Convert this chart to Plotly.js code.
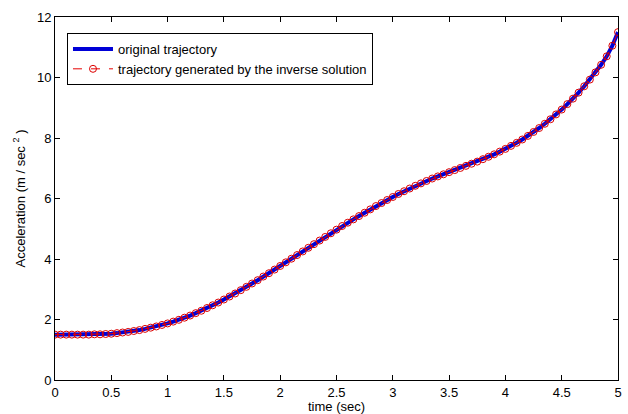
<!DOCTYPE html>
<html>
<head>
<meta charset="utf-8">
<script src="https://cdn.plot.ly/plotly-3.0.1.min.js"></script>
<style>html,body{margin:0;padding:0;background:#fff;}#chart{width:628px;height:414px;}</style>
</head>
<body>
<div id="chart"></div>
<script>
const timeSec = [0.00,0.05,0.10,0.15,0.20,0.25,0.30,0.35,0.40,0.45,0.50,0.55,0.60,0.65,0.70,0.75,0.80,0.85,0.90,0.95,
1.00,1.05,1.10,1.15,1.20,1.25,1.30,1.35,1.40,1.45,1.50,1.55,1.60,1.65,1.70,1.75,1.80,1.85,1.90,1.95,
2.00,2.05,2.10,2.15,2.20,2.25,2.30,2.35,2.40,2.45,2.50,2.55,2.60,2.65,2.70,2.75,2.80,2.85,2.90,2.95,
3.00,3.05,3.10,3.15,3.20,3.25,3.30,3.35,3.40,3.45,3.50,3.55,3.60,3.65,3.70,3.75,3.80,3.85,3.90,3.95,
4.00,4.05,4.10,4.15,4.20,4.25,4.30,4.35,4.40,4.45,4.50,4.55,4.60,4.65,4.70,4.75,4.80,4.85,4.90,4.95,5.00];

const originalAccel = [1.50,1.50,1.50,1.50,1.50,1.50,1.50,1.51,1.51,1.52,1.53,1.55,1.57,1.59,1.62,1.65,1.69,1.73,1.77,1.82,
1.87,1.93,1.99,2.06,2.13,2.21,2.29,2.38,2.47,2.56,2.66,2.76,2.86,2.97,3.08,3.19,3.30,3.42,3.53,3.65,
3.77,3.89,4.01,4.13,4.25,4.37,4.49,4.61,4.73,4.85,4.97,5.09,5.20,5.31,5.42,5.53,5.64,5.75,5.85,5.95,
6.05,6.15,6.24,6.33,6.42,6.50,6.58,6.66,6.73,6.80,6.87,6.94,7.01,7.08,7.15,7.22,7.30,7.38,7.46,7.55,
7.64,7.74,7.84,7.95,8.07,8.20,8.33,8.47,8.62,8.78,8.94,9.12,9.30,9.50,9.71,9.93,10.17,10.42,10.70,11.05,11.50];

const inverseAccel = [1.50,1.50,1.50,1.50,1.50,1.50,1.50,1.51,1.51,1.52,1.53,1.55,1.57,1.59,1.62,1.65,1.69,1.73,1.77,1.82,
1.87,1.93,1.99,2.06,2.13,2.21,2.29,2.38,2.47,2.56,2.66,2.76,2.86,2.97,3.08,3.19,3.30,3.42,3.53,3.65,
3.77,3.89,4.01,4.13,4.25,4.37,4.49,4.61,4.73,4.85,4.97,5.09,5.20,5.31,5.42,5.53,5.64,5.75,5.85,5.95,
6.05,6.15,6.24,6.33,6.42,6.50,6.58,6.66,6.73,6.80,6.87,6.94,7.01,7.08,7.15,7.22,7.30,7.38,7.46,7.55,
7.64,7.74,7.84,7.95,8.07,8.20,8.33,8.47,8.62,8.78,8.94,9.12,9.30,9.50,9.71,9.93,10.17,10.42,10.70,11.05,11.50];

const seriesNames = ['original trajectory', 'trajectory generated by the inverse solution'];
const xTickVals = [0,0.5,1,1.5,2,2.5,3,3.5,4,4.5,5];
const xTickText = ['0','0.5','1','1.5','2','2.5','3','3.5','4','4.5','5'];
const yTickVals = [0,2,4,6,8,10,12];
const yTickText = ['0','2','4','6','8','10','12'];

const font = {family: 'Liberation Sans, Arial, sans-serif', size: 13, color: '#000'};

const traces = [
  {x: timeSec, y: originalAccel, name: seriesNames[0], type: 'scatter', mode: 'lines',
   line: {color: 'rgb(0,0,215)', width: 4}},
  {x: timeSec, y: inverseAccel, name: seriesNames[1], type: 'scatter', mode: 'lines+markers',
   line: {color: 'rgb(230,0,0)', width: 1, dash: 'dash'},
   marker: {symbol: 'circle-open', size: 7, color: 'rgb(220,0,0)', line: {width: 1}}}
];

const layout = {
  width: 628, height: 414,
  margin: {l: 55, r: 10, t: 17, b: 34},
  paper_bgcolor: '#fff', plot_bgcolor: '#fff',
  font: font,
  showlegend: true,
  legend: {x: 0.0213, y: 0.956, xanchor: 'left', yanchor: 'top',
    bgcolor: '#fff', bordercolor: '#000', borderwidth: 1,
    font: {family: 'Liberation Sans, Arial, sans-serif', size: 13, color: '#000'},
    tracegroupgap: 0, itemwidth: 40},
  xaxis: {range: [0, 5], tickvals: xTickVals, ticktext: xTickText,
    ticks: 'inside', ticklen: 5, tickcolor: '#000', showline: true, linecolor: '#000', linewidth: 1,
    mirror: 'ticks', showgrid: false, zeroline: false, tickfont: font,
    title: {text: 'time (sec)', font: font, standoff: 1}},
  yaxis: {range: [0, 12], tickvals: yTickVals, ticktext: yTickText,
    ticks: 'inside', ticklen: 5, tickcolor: '#000', showline: true, linecolor: '#000', linewidth: 1,
    mirror: 'ticks', showgrid: false, zeroline: false, tickfont: font,
    title: {text: 'Acceleration (m / sec <sup>2</sup> )', font: font, standoff: 8}}
};

Plotly.newPlot('chart', traces, layout, {displayModeBar: false, staticPlot: true});
</script>
</body>
</html>
